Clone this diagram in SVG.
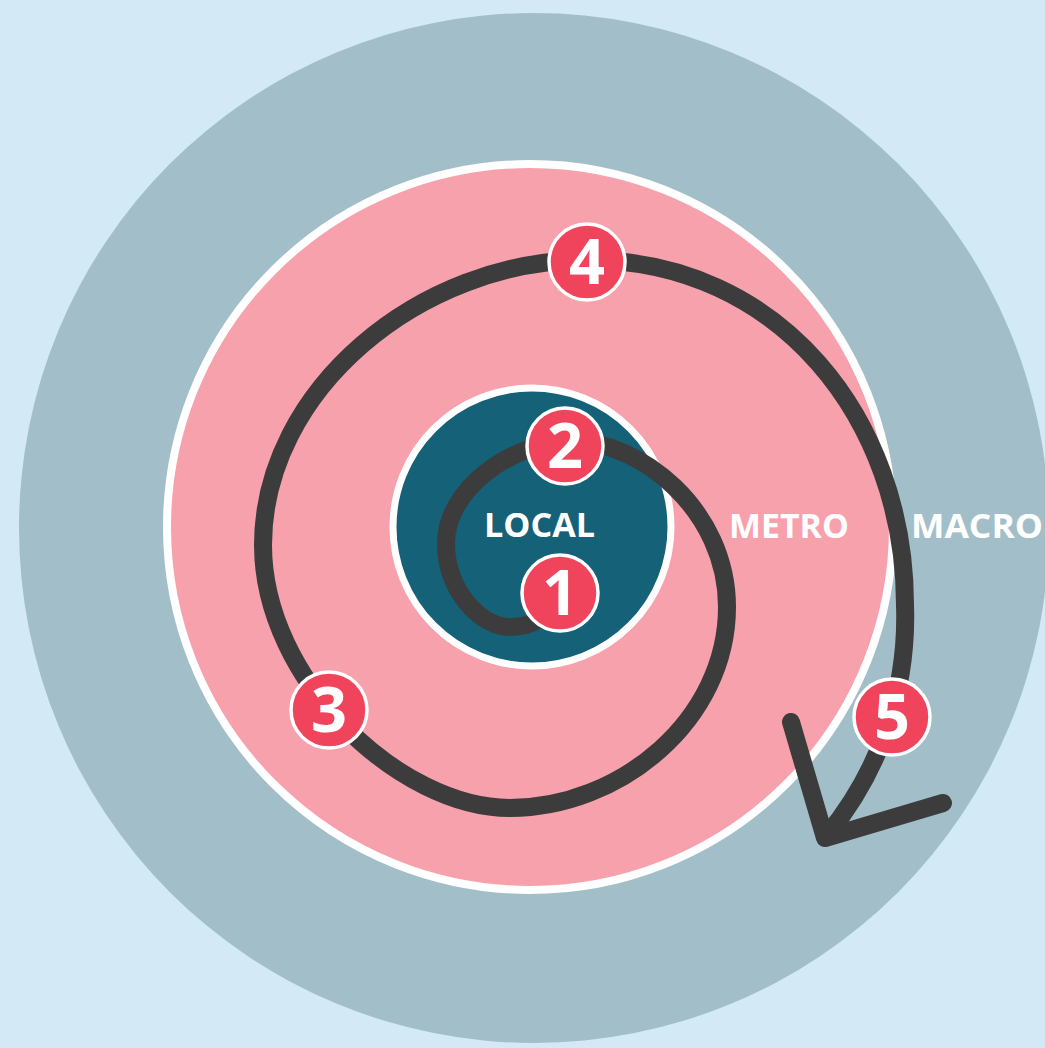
<svg xmlns="http://www.w3.org/2000/svg" width="1045" height="1048" viewBox="0 0 1045 1048">
  <style>
    .ring-label { font-family: "Open Sans", "Liberation Sans", sans-serif; font-weight: 700; font-size: 34px; fill: #ffffff; text-anchor: middle; }
    .badge circle { fill: #f0445c; stroke: #ffffff; stroke-width: 3.5; }
    .badge text { font-family: "Open Sans", "Liberation Sans", sans-serif; font-weight: 700; font-size: 63px; fill: #ffffff; text-anchor: middle; }
    .spiral { fill: none; stroke: #3c3c3c; stroke-width: 18; stroke-linecap: round; stroke-linejoin: round; }
  </style>
  <rect x="0" y="0" width="1045" height="1048" fill="#d4e9f6"/>
  <g id="macro-zone">
    <circle cx="534" cy="528" r="515" fill="#a2bfc9"/>
  </g>
  <g id="metro-zone">
    <circle cx="530" cy="527" r="363" fill="#f7a1ac" stroke="#ffffff" stroke-width="8"/>
  </g>
  <g id="local-zone">
    <circle cx="532" cy="527" r="139" fill="#156178" stroke="#ffffff" stroke-width="7"/>
  </g>
  <g id="connectors">
    <path class="spiral" d="M 548 612 C 538 622, 525 627, 510 627 C 480 627, 446 590, 446 543 C 446 490, 510 443, 570 441 C 640 440, 727 510, 727 607 C 727 720, 620 808, 510 808 C 400 808, 263 680, 263 545 C 263 390, 420 260, 587 260 C 780 260, 905 420, 905 605 C 908 690, 880 770, 828 834"/>
    <polyline class="spiral" points="791,722 825,838 943,803"/>
  </g>
  <g id="label-local"><text class="ring-label" x="539.5" y="537" textLength="111" lengthAdjust="spacingAndGlyphs">LOCAL</text></g>
  <g id="label-metro"><text class="ring-label" x="789" y="538" textLength="120" lengthAdjust="spacingAndGlyphs">METRO</text></g>
  <g id="label-macro"><text class="ring-label" x="977" y="538" textLength="132" lengthAdjust="spacingAndGlyphs">MACRO</text></g>
  <g id="badge-1" class="badge"><circle cx="560" cy="593" r="38"/><text x="560" y="615">1</text></g>
  <g id="badge-2" class="badge"><circle cx="565" cy="446" r="38"/><text x="565" y="468">2</text></g>
  <g id="badge-3" class="badge"><circle cx="329" cy="710" r="38"/><text x="329" y="732">3</text></g>
  <g id="badge-4" class="badge"><circle cx="587" cy="262" r="38"/><text x="587" y="284">4</text></g>
  <g id="badge-5" class="badge"><circle cx="892" cy="717" r="38"/><text x="892" y="739">5</text></g>
</svg>
